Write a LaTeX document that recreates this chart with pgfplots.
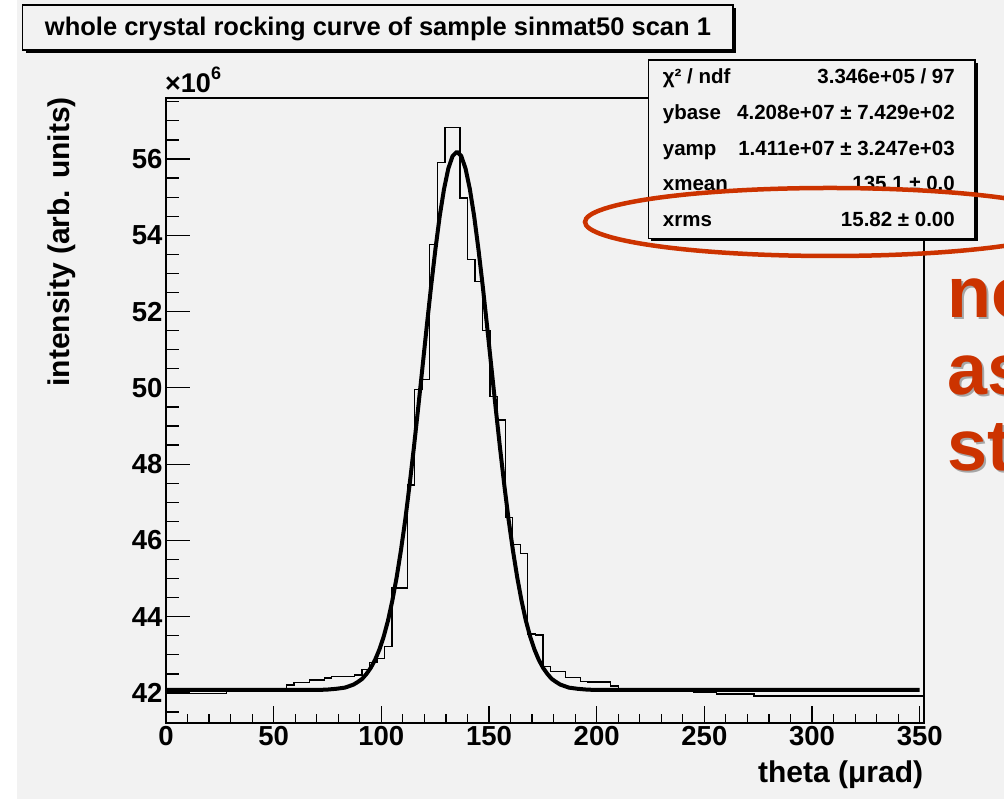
\documentclass[border=0pt]{standalone}
\usepackage{fontspec}
\setmainfont{Liberation Sans}
\usepackage{pgfplots}
\pgfplotsset{compat=1.18}
\definecolor{canvas}{RGB}{242,242,242}
\definecolor{redmark}{RGB}{204,51,0}
\begin{document}
\begin{tikzpicture}[x=1pt,y=1pt]
\useasboundingbox (0,0) rectangle (1004,799);
\clip (0,0) rectangle (1004,799);
\fill[white] (0,0) rectangle (1004,799);
\fill[canvas] (17,0) rectangle (1004,799);
% title box
\fill[black] (25.7,746) rectangle (736,791);
\filldraw[fill=canvas, draw=black, line width=1.2pt] (22.7,749) rectangle (733,794);
\node[anchor=base, inner sep=0pt, font=\bfseries\fontsize{25.5}{30}\selectfont] at (378,763) {whole crystal rocking curve of sample sinmat50 scan 1};

\begin{axis}[
  at={(166pt,76pt)}, anchor=south west, scale only axis,
  width=758pt, height=625pt,
  xmin=0, xmax=352, ymin=41.213, ymax=57.6,
  xtick={0,50,...,350}, minor xtick={10,20,...,340}, ytick=\empty,
  tick pos=left, tick align=inside,
  major tick length=17pt, minor tick length=9pt,
  axis line style={line width=1.5pt},
  tick style={line width=1.2pt, black},
  ticklabel style={font=\bfseries\fontsize{27.5}{27.5}\selectfont},
  /pgf/number format/assume math mode=true,
]
\addplot[const plot mark left, black, line width=1.3pt] coordinates {
(0,42.06) (3.5,42.06) (7,42.06) (10.5,41.99) (14,41.99) (17.5,41.99) (21,41.99) (24.5,41.99)
(28,42.03) (31.5,42.03) (35,42.03) (38.5,42.03) (42,42.06) (45.5,42.06) (49,42.06) (52.5,42.06)
(56,42.21) (59.5,42.27) (63,42.27) (66.5,42.34) (70,42.34) (73.5,42.39) (77,42.43) (80.5,42.43)
(84,42.43) (87.5,42.47) (91,42.62) (94.5,42.80) (98,42.91) (101.5,43.21) (105,44.75) (108.5,44.75)
(112,47.45) (115.5,49.95) (119,50.21) (122.5,53.75) (126,55.91) (129.5,56.82) (133,56.82) (136.5,54.98)
(140,53.36) (143.5,52.79) (147,51.50) (150.5,49.77) (154,49.16) (157.5,46.60) (161,45.90) (164.5,45.66)
(168,43.55) (171.5,43.52) (175,42.69) (178.5,42.56) (182,42.56) (185.5,42.41) (189,42.41) (192.5,42.31)
(196,42.29) (199.5,42.29) (203,42.29) (206.5,42.18) (210,42.09) (213.5,42.09) (217,42.09) (220.5,42.09)
(224,42.09) (227.5,42.09) (231,42.09) (234.5,42.09) (238,42.09) (241.5,42.09) (245,42.02) (248.5,42.02)
(252,42.02) (255.5,41.97) (259,41.97) (262.5,41.97) (266,41.97) (269.5,41.97) (273,41.92) (276.5,41.92)
(280,41.92) (283.5,41.92) (287,41.92) (290.5,41.92) (294,41.92) (297.5,41.92) (301,41.92) (304.5,41.92)
(308,41.92) (311.5,41.92) (315,41.92) (318.5,41.92) (322,41.92) (325.5,41.92) (329,41.92) (332.5,41.92)
(336,41.92) (339.5,41.92) (343,41.92) (346.5,41.92) (352,41.92)
};
\addplot[black, line width=4pt, line join=round] coordinates {
(0,42.08) (60,42.08) (71.1,42.08) (75.1,42.09) (79.1,42.11) (83.1,42.14) (87.1,42.22) (89.1,42.29)
(91.1,42.37) (93.1,42.50) (95.1,42.66) (97.1,42.87) (99.1,43.14) (101.1,43.48) (103.1,43.90) (105.1,44.42)
(107.1,45.03) (109.1,45.74) (111.1,46.54) (113.1,47.45) (115.1,48.43) (117.1,49.47) (119.1,50.54) (121.1,51.62)
(123.1,52.66) (125.1,53.63) (127.1,54.50) (129.1,55.21) (131.1,55.75) (133.1,56.08) (135.1,56.19) (137.1,56.08)
(139.1,55.75) (141.1,55.21) (143.1,54.50) (145.1,53.63) (147.1,52.66) (149.1,51.62) (151.1,50.54) (153.1,49.47)
(155.1,48.43) (157.1,47.45) (159.1,46.54) (161.1,45.74) (163.1,45.03) (165.1,44.42) (167.1,43.90) (169.1,43.48)
(171.1,43.14) (173.1,42.87) (175.1,42.66) (177.1,42.50) (179.1,42.37) (181.1,42.29) (183.1,42.22) (187.1,42.14)
(191.1,42.11) (195.1,42.09) (199.1,42.08) (350,42.08)
};
\end{axis}

\begin{axis}[
  at={(166pt,76pt)}, anchor=south west, scale only axis,
  width=758pt, height=625pt,
  xmin=0, xmax=352, ymin=41.213, ymax=57.6,
  xtick=\empty, ytick={42,44,...,56}, minor ytick={41.5,42,...,57.5},
  tick pos=left, tick align=inside,
  major tick length=24pt, minor tick length=13pt,
  axis line style={line width=1.5pt},
  tick style={line width=1.2pt, black},
  ticklabel style={font=\bfseries\fontsize{27.5}{27.5}\selectfont},
  /pgf/number format/assume math mode=true,
]
\addplot[draw=none] coordinates {(10,42)};
\end{axis}

% multiplier
\node[anchor=base west, inner sep=0pt, font=\bfseries\fontsize{27}{27}\selectfont] at (165,706) {×10\raisebox{0.5em}{\fontsize{18}{18}\selectfont 6}};

% axis titles
\node[anchor=base east, inner sep=0pt, font=\bfseries\fontsize{30}{30}\selectfont] at (923.3,16) {theta (μrad)};
\node[rotate=90, anchor=base east, inner sep=0pt, font=\bfseries\fontsize{30}{30}\selectfont] at (69,702) {intensity (arb. units)};

% stats box
\fill[black] (651.3,557.7) rectangle (978,736);
\filldraw[fill=canvas, draw=black, line width=1.3pt] (648.3,560.7) rectangle (975,739);
\begin{scope}[every node/.style={inner sep=0pt, font=\bfseries\fontsize{20.5}{24}\selectfont}]
\node[anchor=base west] at (662.7,715.5) {χ² / ndf};
\node[anchor=base east] at (955,715.5) {3.346e+05 / 97};
\node[anchor=base west] at (662.7,679.7) {ybase};
\node[anchor=base east] at (955,679.7) {4.208e+07 ± 7.429e+02};
\node[anchor=base west] at (662.7,643.9) {yamp};
\node[anchor=base east] at (955,643.9) {1.411e+07 ± 3.247e+03};
\node[anchor=base west] at (662.7,608.1) {xmean};
\node[anchor=base east] at (955,608.1) {135.1 ± 0.0};
\node[anchor=base west] at (662.7,572.3) {xrms};
\node[anchor=base east] at (955,572.3) {15.82 ± 0.00};
\end{scope}

% annotation
\draw[redmark, line width=4.5pt] (830,577) ellipse [x radius=245, y radius=34];
\begin{scope}[every node/.style={inner sep=0pt, anchor=base west, font=\bfseries\fontsize{72}{72}\selectfont}]
\node[text=black!35] at (949,479) {no};
\node[text=black!35] at (949,402) {as};
\node[text=black!35] at (949,326) {st};
\node[text=redmark] at (947,481) {no};
\node[text=redmark] at (947,404) {as};
\node[text=redmark] at (947,328) {st};
\end{scope}
\end{tikzpicture}
\end{document}
